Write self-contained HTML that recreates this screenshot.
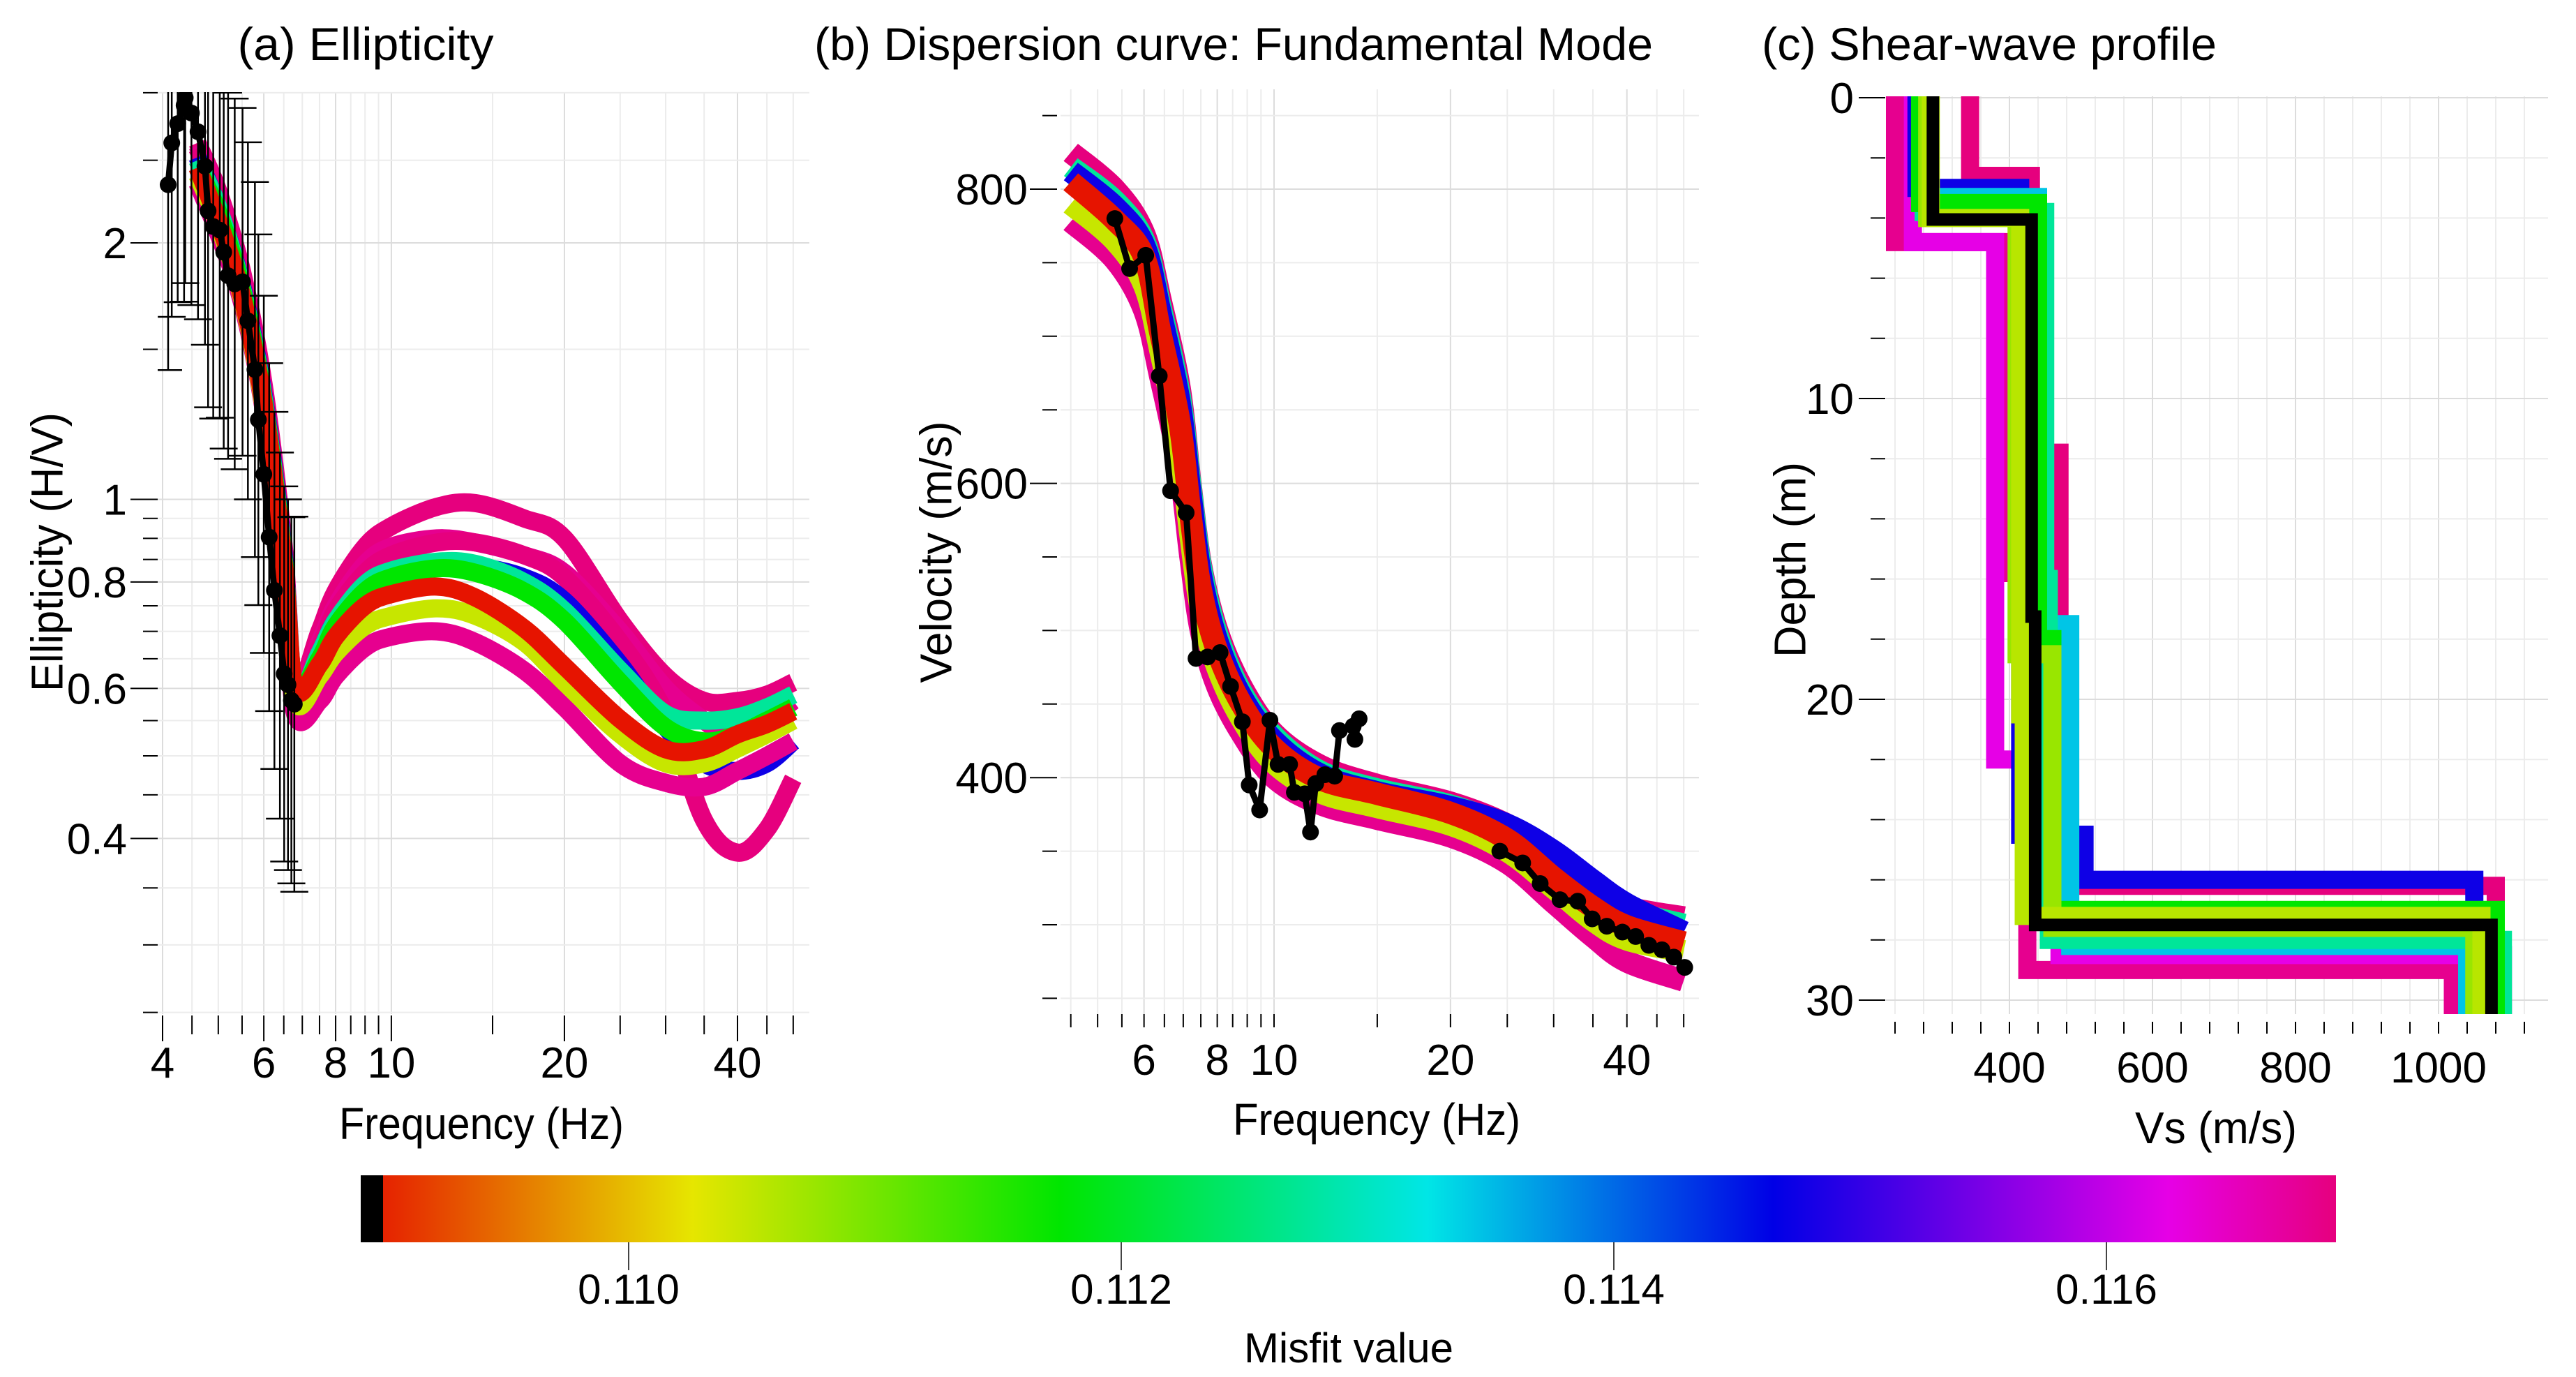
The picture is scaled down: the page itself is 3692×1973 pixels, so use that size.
<!DOCTYPE html>
<html><head><meta charset="utf-8"><style>
html,body{margin:0;padding:0;background:#fff;}
svg{display:block;font-family:"Liberation Sans","DejaVu Sans",sans-serif;}
</style></head><body>
<svg id="fig" width="3692" height="1973" viewBox="0 0 3692 1973" xmlns="http://www.w3.org/2000/svg">
<defs>
<clipPath id="clipA"><rect x="226" y="132" width="934" height="1321"/></clipPath>
<clipPath id="clipB"><rect x="1520" y="128" width="915" height="1325"/></clipPath>
<clipPath id="clipC"><rect x="2703" y="138" width="949" height="1315"/></clipPath>
<linearGradient id="cbGrad" x1="0" x2="1" y1="0" y2="0">
<stop offset="0" stop-color="#e61400"/><stop offset="0.168" stop-color="#e6e600"/><stop offset="0.354" stop-color="#00e600"/><stop offset="0.54" stop-color="#00e6e6"/><stop offset="0.715" stop-color="#0000e6"/><stop offset="0.915" stop-color="#e600e6"/><stop offset="1" stop-color="#e6007e"/>
</linearGradient>
</defs>
<g id="grid"></g><g id="marks"></g><g id="axes"></g>
<text x="524" y="86" font-size="66" text-anchor="middle" textLength="367" lengthAdjust="spacingAndGlyphs">(a) Ellipticity</text>
<text x="1768" y="86" font-size="66" text-anchor="middle" textLength="1202" lengthAdjust="spacingAndGlyphs">(b) Dispersion curve: Fundamental Mode</text>
<text x="2851" y="86" font-size="66" text-anchor="middle" textLength="652" lengthAdjust="spacingAndGlyphs">(c) Shear-wave profile</text>
<text x="690" y="1632" font-size="64" text-anchor="middle" textLength="408" lengthAdjust="spacingAndGlyphs">Frequency (Hz)</text>
<text x="1973" y="1626" font-size="64" text-anchor="middle" textLength="412" lengthAdjust="spacingAndGlyphs">Frequency (Hz)</text>
<text x="3176" y="1638" font-size="64" text-anchor="middle" textLength="232" lengthAdjust="spacingAndGlyphs">Vs (m/s)</text>
<text transform="translate(67,791) rotate(-90)" dy="0.35em" font-size="64" text-anchor="middle" textLength="400" lengthAdjust="spacingAndGlyphs">Ellipticity (H/V)</text>
<text transform="translate(1341,791) rotate(-90)" dy="0.35em" font-size="64" text-anchor="middle" textLength="375" lengthAdjust="spacingAndGlyphs">Velocity (m/s)</text>
<text transform="translate(2565,802) rotate(-90)" dy="0.35em" font-size="64" text-anchor="middle" textLength="280" lengthAdjust="spacingAndGlyphs">Depth (m)</text>
<rect x="517" y="1684" width="2831" height="96" fill="url(#cbGrad)"/>
<rect x="517" y="1684" width="32" height="96" fill="#000"/>
<text x="1933" y="1952" font-size="60" text-anchor="middle">Misfit value</text>
</svg>
<script>
// ---------- data ----------
const elFreq = [4.6,5,5.5,6,6.5,6.8,7.5,8,9,10,12,14,17,20,25,30,35,40,45,50];
const elMisfit = [0.1169,0.1168,0.1169,0.1148,0.1128,0.1118,0.1168,0.1105,0.1089];
const elM1 = [2.62,2.3,1.85,1.36,0.88,0.60,0.70,0.78,0.88,0.93,0.98,0.99,0.95,0.90,0.72,0.62,0.58,0.58,0.59,0.61];
const elM2 = [2.6,2.28,1.83,1.35,0.87,0.60,0.68,0.75,0.84,0.88,0.90,0.89,0.86,0.82,0.70,0.60,0.55,0.52,0.55,0.58];
const elM3 = [2.58,2.25,1.8,1.33,0.86,0.59,0.67,0.74,0.82,0.86,0.89,0.89,0.86,0.81,0.68,0.56,0.42,0.385,0.41,0.47];
const elM4 = [2.52,2.2,1.78,1.32,0.86,0.59,0.66,0.72,0.79,0.82,0.84,0.835,0.81,0.76,0.64,0.54,0.49,0.48,0.49,0.52];
const elM5 = [2.5,2.2,1.77,1.31,0.85,0.59,0.66,0.72,0.795,0.825,0.845,0.84,0.80,0.74,0.63,0.56,0.55,0.555,0.57,0.59];
const elM6 = [2.45,2.17,1.76,1.3,0.85,0.6,0.65,0.71,0.78,0.81,0.83,0.82,0.78,0.72,0.61,0.54,0.52,0.53,0.55,0.57];
const elM7 = [2.35,2.05,1.7,1.27,0.83,0.56,0.58,0.62,0.67,0.69,0.70,0.68,0.63,0.57,0.49,0.465,0.46,0.48,0.50,0.52];
const elM8 = [2.4,2.1,1.72,1.28,0.84,0.58,0.62,0.66,0.71,0.73,0.745,0.73,0.68,0.61,0.53,0.49,0.49,0.51,0.53,0.55];
const elM9 = [2.45,2.12,1.73,1.29,0.84,0.6,0.64,0.69,0.75,0.774,0.79,0.767,0.706,0.637,0.552,0.509,0.509,0.53,0.545,0.564];
const elObsFreq = [4.09,4.15,4.25,4.36,4.38,4.49,4.61,4.74,4.8,4.9,5.03,5.11,5.2,5.34,5.51,5.63,5.79,5.87,6.0,6.13,6.26,6.4,6.51,6.61,6.7,6.78];
const elObsVal = [2.34,2.62,2.76,2.9,2.96,2.84,2.7,2.46,2.18,2.09,2.07,1.95,1.83,1.79,1.8,1.62,1.42,1.24,1.07,0.903,0.782,0.692,0.624,0.606,0.581,0.575];
const elObsErr = [1.65,1.6,1.62,1.7,1.65,1.68,1.66,1.62,1.7,1.68,1.66,1.7,1.64,1.65,1.6,1.62,1.66,1.65,1.62,1.6,1.62,1.64,1.66,1.65,1.64,1.66];

const dcFreq = [4.5,5.35,6,6.4,6.9,7.2,7.5,8,8.8,10,12,15,20,25,30,35,40,50];
const dcMisfit = [0.1169,0.1168,0.1128,0.1148,0.1105,0.1089];
const dcM1 = [825,800,770,725,665,600,545,500,462,430,408,395,383,368,348,325,312,305];
const dcM2 = [778,752,718,672,610,550,500,462,430,400,382,372,360,342,315,292,275,262];
const dcM3 = [815,792,765,720,660,598,543,497,458,428,404,392,381,366,345,325,310,300];
const dcM4 = [812,788,762,716,655,593,538,493,455,425,402,390,380,368,350,330,314,295];
const dcM5 = [790,765,735,690,625,565,515,475,440,410,390,380,368,350,325,303,290,282];
const dcM6 = [805,779,754,702,641,579,528,486,450,420,399,389,376,358,332,312,299,288];
const dcObsFreqA = [5.35,5.67,6.04,6.37,6.66,7.08,7.36,7.7,8.09,8.43,8.83,9.07,9.45,9.84,10.16,10.63,10.83,11.28,11.54,11.78,12.21,12.69,12.93,13.65,13.74,13.97];
const dcObsVelA = [780,746,755,673,595,580,481,482,485,462,438,395,378,439,409,409,390,389,363,396,402,401,432,435,426,440];
const dcObsFreqB = [24.28,26.56,28.45,30.76,32.97,34.9,36.96,39.3,41.4,43.6,45.9,48.1,50.2];
const dcObsVelB = [350,342,328,317,316,304,299,295,292,286,283,278,271];

const vsMisfit = [0.1169,0.1168,0.1163,0.1148,0.1135,0.1128,0.1118,0.1108,0.1106,0.1088];
const vsLayers = [[345,430,470,1080],[240,385,425,1020],[265,380,470,1090],[270,415,505,1050],[285,440,485,1040],[280,450,455,1090],[275,440,460,1080],[285,410,460,1050],[290,415,420,1060],[293,431,436,1074]];
const vsDepths = [[2.6,11.8,26.2],[4.8,15.8,29.0],[4.8,22,28.5],[3.0,24.5,26.0],[3.3,17.5,28.2],[3.8,16,28],[3.5,18,27],[4.0,18.5,27.6],[4.0,20.5,27.2],[4.05,17.25,27.5]];

const cbTicks = [0.110,0.112,0.114,0.116];
const cbLabels = ["0.110","0.112","0.114","0.116"];

// ---------- scales ----------
const L=Math.log10;
const xA=f=>233+824*L(f/4), yA=v=>715.5-1221*L(v);
const xB=f=>1826+840*L(f/10), yB=v=>271+(800-v)*2.108;
const xC=s=>2880+(s-400)*1.025, yC=d=>140+d*43.1;
const xCB=m=>901+(m-0.110)*353000;
const NS="http://www.w3.org/2000/svg";
const G=document.getElementById('grid'),M=document.getElementById('marks'),AX=document.getElementById('axes');
function mk(tag,attrs,parent){const e=document.createElementNS(NS,tag);for(const k in attrs)e.setAttribute(k,attrs[k]);parent.appendChild(e);return e;}
const stops=[[0.1089,[230,20,0]],[0.1103,[230,230,0]],[0.1118,[0,230,0]],[0.1133,[0,230,230]],[0.1147,[0,0,230]],[0.1163,[230,0,230]],[0.1169,[230,0,126]]];
function cmap(m){if(m<=stops[0][0])return 'rgb(230,20,0)';for(let i=1;i<stops.length;i++){if(m<=stops[i][0]){const t=(m-stops[i-1][0])/(stops[i][0]-stops[i-1][0]);const a=stops[i-1][1],b=stops[i][1];return `rgb(${a.map((v,j)=>Math.round(v+(b[j]-v)*t)).join(',')})`;}}return 'rgb(230,0,126)';}
function smooth(p){let d=`M${p[0][0]},${p[0][1]}`;for(let i=0;i<p.length-1;i++){const p0=p[i-1]||p[i],p1=p[i],p2=p[i+1],p3=p[i+2]||p2;d+=` C${p1[0]+(p2[0]-p0[0])/6},${p1[1]+(p2[1]-p0[1])/6} ${p2[0]-(p3[0]-p1[0])/6},${p2[1]-(p3[1]-p1[1])/6} ${p2[0]},${p2[1]}`;}return d;}
function line(x1,y1,x2,y2,stroke,w,parent){return mk('line',{x1,y1,x2,y2,stroke,'stroke-width':w},parent);}

// ---------- panel a axes ----------
const aXt=[4,4.5,5,5.5,6,6.5,7,7.5,8,8.5,9,9.5,10,15,20,25,30,35,40,45,50];
const aXlab=[4,6,8,10,20,40];
aXt.forEach(f=>{const x=xA(f);const maj=aXlab.includes(f);
 const g=line(x,132,x,1453,maj?'#dcdcdc':'#ececec',2,G);
 const t=line(x,1455,x,maj?1492:1482,'#000',2,AX);});
aXlab.forEach(f=>{const t=mk('text',{x:xA(f),y:1544,'font-size':62,'text-anchor':'middle'},AX);t.textContent=f;
 });
const aYt=[0.25,0.3,0.35,0.4,0.45,0.5,0.55,0.6,0.65,0.7,0.75,0.8,0.85,0.9,0.95,1,1.5,2,2.5,3];
const aYlab=[[0.4,'0.4'],[0.6,'0.6'],[0.8,'0.8'],[1,'1'],[2,'2']];
aYt.forEach(v=>{const y=yA(v);const maj=aYlab.some(a=>a[0]===v);
 const g=line(226,y,1160,y,maj?'#dcdcdc':'#ececec',2,G);
 const t=line(maj?187:205,y,226,y,'#000',2,AX);});
aYlab.forEach(a=>{const t=mk('text',{x:182,y:yA(a[0])+22,'font-size':62,'text-anchor':'end'},AX);t.textContent=a[1];
 });
// ---------- panel b axes ----------
const bXt=[4.5,5,5.5,6,6.5,7,7.5,8,8.5,9,9.5,10,15,20,25,30,35,40,45,50];
const bXlab=[6,8,10,20,40];
bXt.forEach(f=>{const x=xB(f);const maj=bXlab.includes(f);
 const g=line(x,128,x,1453,maj?'#dcdcdc':'#ececec',2,G);
 const t=line(x,1453,x,1472,'#000',2,AX);});
bXlab.forEach(f=>{const t=mk('text',{x:xB(f),y:1540,'font-size':62,'text-anchor':'middle'},AX);t.textContent=f;
 });
for(let v=250;v<=850;v+=50){const y=yB(v);const maj=v%200===0;
 const g=line(1520,y,2435,y,maj?'#dcdcdc':'#ececec',2,G);
 const t=line(maj?1476:1494,y,1515,y,'#000',2,AX);
 if(maj&&v>=400&&v<=800){const tx=mk('text',{x:1473,y:y+22,'font-size':62,'text-anchor':'end'},AX);tx.textContent=v;
  }}
// ---------- panel c axes ----------
for(let s=240;s<=1120;s+=40){const x=xC(s);const maj=s%200===0;
 const g=line(x,138,x,1453,maj?'#dcdcdc':'#ececec',2,G);
 const t=line(x,1464,x,1481,'#000',2,AX);
 if(maj&&s>=400){const tx=mk('text',{x:x,y:1551,'font-size':62,'text-anchor':'middle'},AX);tx.textContent=s;
  }}
for(let d=0;d<=30;d+=2){const y=yC(d);const maj=d%10===0;
 const g=line(2703,y,3652,y,maj?'#dcdcdc':'#ececec',2,G);
 const t=line(maj?2664:2681,y,2702,y,'#000',2,AX);}
[0,10,20,30].forEach(d=>{const tx=mk('text',{x:2657,y:yC(d)+22,'font-size':62,'text-anchor':'end'},AX);tx.textContent=d;
 });

// ---------- panel a marks ----------
const gA=mk('g',{'clip-path':'url(#clipA)'},M);
const elModels=[elM1,elM2,elM3,elM4,elM5,elM6,elM7,elM8,elM9];
elModels.forEach((m,i)=>{const p=mk('path',{d:smooth(m.map((v,j)=>[xA(elFreq[j]),yA(v)])),fill:'none',stroke:cmap(elMisfit[i]),'stroke-width':26,'stroke-linejoin':'round'},gA);
 });
elObsFreq.forEach((f,i)=>{const x=xA(f),v=elObsVal[i],e=elObsErr[i];
 const a=line(x,yA(v*e),x,yA(v/e),'#000',2.5,gA);
 const c1=line(x-20,yA(v*e),x+20,yA(v*e),'#000',2.5,gA);
 const c2=line(x-20,yA(v/e),x+20,yA(v/e),'#000',2.5,gA);});
const oA=mk('polyline',{points:elObsFreq.map((f,i)=>xA(f)+','+yA(elObsVal[i])).join(' '),fill:'none',stroke:'#000','stroke-width':9,'stroke-linejoin':'round'},gA);

elObsFreq.forEach((f,i)=>{const c=mk('circle',{cx:xA(f),cy:yA(elObsVal[i]),r:12,fill:'#000'},gA);
 });

// ---------- panel b marks ----------
const gB=mk('g',{'clip-path':'url(#clipB)'},M);
const dcModels=[dcM1,dcM2,dcM3,dcM4,dcM5,dcM6];
dcModels.forEach((m,i)=>{const p=mk('path',{d:smooth(m.map((v,j)=>[xB(dcFreq[j]),yB(v)])),fill:'none',stroke:cmap(dcMisfit[i]),'stroke-width':32,'stroke-linejoin':'round'},gB);
 });
[[dcObsFreqA,dcObsVelA],[dcObsFreqB,dcObsVelB]].forEach(([fs,vs])=>{
 const pl=mk('polyline',{points:fs.map((f,i)=>xB(f)+','+yB(vs[i])).join(' '),fill:'none',stroke:'#000','stroke-width':9,'stroke-linejoin':'round'},gB);
 
 fs.forEach((f,i)=>{const c=mk('circle',{cx:xB(f),cy:yB(vs[i]),r:12,fill:'#000'},gB);
  });});

// ---------- panel c marks ----------
const gC=mk('g',{'clip-path':'url(#clipC)'},M);
vsLayers.forEach((vs,i)=>{const ds=vsDepths[i];let pts=[[xC(vs[0]),yC(-1)]];
 for(let k=0;k<ds.length;k++){pts.push([xC(vs[k]),yC(ds[k])]);pts.push([xC(vs[k+1]),yC(ds[k])]);}
 pts.push([xC(vs[vs.length-1]),yC(31)]);
 const best=i===vsLayers.length-1;
 const p=mk('polyline',{points:pts.map(q=>q.join(',')).join(' '),fill:'none',stroke:best?'#000':cmap(vsMisfit[i]),'stroke-width':best?18:26},gC);
 });

// ---------- colorbar ticks ----------
cbTicks.forEach((m,i)=>{const x=xCB(m);const t=line(x,1780,x,1820,'#444',2,AX);
 
 const tx=mk('text',{x:x,y:1868,'font-size':60,'text-anchor':'middle'},AX);tx.textContent=cbLabels[i];
 });
</script>
</body></html>
